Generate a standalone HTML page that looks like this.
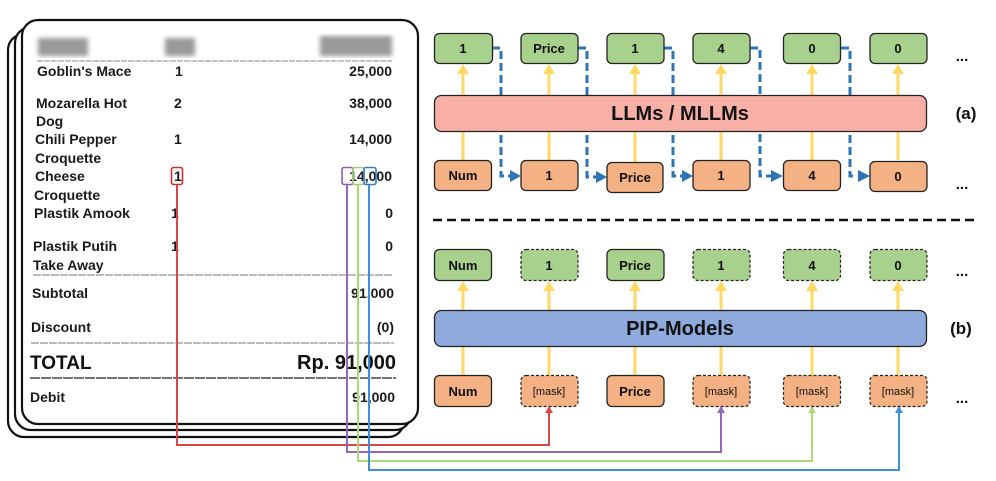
<!DOCTYPE html>
<html><head><meta charset="utf-8"><style>
html,body{margin:0;padding:0;background:#fff;}
svg{display:block;}
.r{font-family:"Liberation Sans",Arial,sans-serif;font-size:14px;font-weight:bold;fill:#1a1a1a;}
.c{font-family:"Liberation Sans",Arial,sans-serif;font-weight:bold;font-size:13px;fill:#111;text-anchor:middle;}
.m{font-family:"Liberation Sans",Arial,sans-serif;font-size:11px;fill:#111;text-anchor:middle;}
</style></head><body>
<svg width="996" height="481" viewBox="0 0 996 481" xmlns="http://www.w3.org/2000/svg">
<defs>
<filter id="bl"><feGaussianBlur stdDeviation="2.5"/></filter>
</defs>
<!-- receipt cards -->
<rect x="8" y="34" width="396" height="403" rx="16" fill="#fff" stroke="#111" stroke-width="2.2"/>
<rect x="15" y="27" width="396" height="403" rx="16" fill="#fff" stroke="#111" stroke-width="2.2"/>
<rect x="22" y="20" width="396" height="404" rx="16" fill="#fff" stroke="#111" stroke-width="2.2"/>
<g filter="url(#bl)" fill="#999">
<rect x="38" y="38" width="50" height="18"/><rect x="165" y="38" width="30" height="18"/><rect x="320" y="36" width="72" height="20"/>
</g>
<line x1="37" y1="61" x2="392" y2="61" stroke="#888" stroke-width="1" stroke-dasharray="6,1"/>
<g class="r">
<text x="37" y="76">Goblin's Mace</text><text x="175" y="76">1</text><text x="392" y="76" text-anchor="end">25,000</text>
<text x="36" y="108">Mozarella Hot</text><text x="174" y="108">2</text><text x="392" y="108" text-anchor="end">38,000</text>
<text x="36" y="126">Dog</text>
<text x="35" y="144">Chili Pepper</text><text x="174" y="144">1</text><text x="392" y="144" text-anchor="end">14,000</text>
<text x="35" y="163">Croquette</text>
<text x="35" y="181">Cheese</text><text x="174" y="181">1</text><text x="392" y="181" text-anchor="end">14,000</text>
<text x="34" y="200">Croquette</text>
<text x="34" y="218">Plastik Amook</text><text x="171" y="218">1</text><text x="393" y="218" text-anchor="end">0</text>
<text x="33" y="251">Plastik Putih</text><text x="171" y="251">1</text><text x="393" y="251" text-anchor="end">0</text>
<text x="33" y="270">Take Away</text>
<text x="32" y="298">Subtotal</text><text x="394" y="298" text-anchor="end">91,000</text>
<text x="31" y="332">Discount</text><text x="394" y="332" text-anchor="end">(0)</text>
<text x="30" y="402">Debit</text><text x="395" y="402" text-anchor="end">91,000</text>
</g>
<text x="30" y="369" style="font-family:'Liberation Sans',Arial,sans-serif;font-weight:bold;font-size:19px;fill:#111">TOTAL</text>
<text x="396" y="369" text-anchor="end" style="font-family:'Liberation Sans',Arial,sans-serif;font-weight:bold;font-size:20px;fill:#111">Rp. 91,000</text>
<line x1="33" y1="275" x2="392" y2="275" stroke="#777" stroke-width="1" stroke-dasharray="8,1"/>
<line x1="31" y1="343" x2="394" y2="343" stroke="#777" stroke-width="1" stroke-dasharray="8,1"/>
<line x1="30" y1="378" x2="396" y2="378" stroke="#444" stroke-width="1.5" stroke-dasharray="10,1"/>
<!-- highlights -->
<rect x="171.5" y="167.5" width="11" height="17" rx="2" fill="none" stroke="#d03030" stroke-width="1.6"/>
<rect x="342" y="167.5" width="11" height="17" rx="2" fill="none" stroke="#8e5cc0" stroke-width="1.6"/>
<rect x="353" y="167.5" width="11" height="17" rx="2" fill="none" stroke="#9fd36a" stroke-width="1.6"/>
<rect x="364" y="167.5" width="12" height="17" rx="2" fill="none" stroke="#2f7fd0" stroke-width="1.6"/>
<!-- connectors -->
<polyline points="177,185 177,445 549,445 549,412" fill="none" stroke="#d84848" stroke-width="2"/>
<path d="M545,413 L549,406 L553,413z" fill="#d84848"/>
<polyline points="347,185 347,452 721,452 721,412" fill="none" stroke="#9566c0" stroke-width="2"/>
<path d="M717,413 L721,406 L725,413z" fill="#9566c0"/>
<polyline points="358,185 358,461 812,461 812,412" fill="none" stroke="#a8dc78" stroke-width="2"/>
<path d="M808,413 L812,406 L816,413z" fill="#a8dc78"/>
<polyline points="369,185 369,470 899,470 899,412" fill="none" stroke="#3d8fd6" stroke-width="2"/>
<path d="M895,413 L899,406 L903,413z" fill="#3d8fd6"/>

<!-- (a) -->
<g stroke="#ffd966" stroke-width="3">
<line x1="463" y1="160" x2="463" y2="131"/><line x1="549" y1="160" x2="549" y2="131"/><line x1="635" y1="162" x2="635" y2="131"/><line x1="721" y1="160" x2="721" y2="131"/><line x1="812" y1="160" x2="812" y2="131"/><line x1="898" y1="160" x2="898" y2="131"/>
<line x1="463" y1="95" x2="463" y2="72"/><line x1="549" y1="95" x2="549" y2="72"/><line x1="635" y1="95" x2="635" y2="72"/><line x1="721" y1="95" x2="721" y2="72"/><line x1="812" y1="95" x2="812" y2="72"/><line x1="898" y1="95" x2="898" y2="72"/>
</g>
<g fill="#ffd966">
<path d="M457,74 L463,64 L469,74z"/><path d="M543,74 L549,64 L555,74z"/><path d="M629,74 L635,64 L641,74z"/><path d="M715,74 L721,64 L727,74z"/><path d="M806,74 L812,64 L818,74z"/><path d="M892,74 L898,64 L904,74z"/>
</g>
<g fill="none" stroke="#2e75b6" stroke-width="3" stroke-dasharray="8,4">
<polyline points="492,48 501,48 501,176 510,176"/>
<polyline points="578,48 587,48 587,177 596,177"/>
<polyline points="664,48 673,48 673,176 682,176"/>
<polyline points="750,48 760,48 760,176 771,176"/>
<polyline points="841,48 850,48 850,176 857,176"/>
</g>
<g fill="#2e75b6">
<path d="M510,170 L521,176 L510,182z"/><path d="M596,171 L607,177 L596,183z"/><path d="M682,170 L693,176 L682,182z"/><path d="M771,170 L783,176 L771,182z"/><path d="M858,170 L870,176 L858,182z"/>
</g>
<g fill="#a9d18e" stroke="#222" stroke-width="1.3">
<rect x="434.5" y="33.5" width="58" height="30" rx="5"/><rect x="521" y="33.5" width="57" height="30" rx="5"/><rect x="607" y="33.5" width="57" height="30" rx="5"/><rect x="693" y="33.5" width="57" height="30" rx="5"/><rect x="783.5" y="33.5" width="57" height="30" rx="5"/><rect x="870" y="33.5" width="57" height="30" rx="5"/>
</g>
<g class="c"><text x="463" y="53">1</text><text x="549" y="53">Price</text><text x="635" y="53">1</text><text x="721" y="53">4</text><text x="812" y="53">0</text><text x="898" y="53">0</text></g>
<rect x="434.5" y="95.5" width="492" height="36" rx="7" fill="#f8b0a6" stroke="#222" stroke-width="1.3"/>
<text x="680" y="120" class="c" style="font-size:20px">LLMs / MLLMs</text>
<g fill="#f4b183" stroke="#222" stroke-width="1.3">
<rect x="434.5" y="160.5" width="57" height="30" rx="5"/><rect x="521" y="160.5" width="57" height="30" rx="5"/><rect x="607" y="162.5" width="56" height="30" rx="5"/><rect x="693" y="160.5" width="57" height="30" rx="5"/><rect x="783.5" y="160.5" width="57" height="30" rx="5"/><rect x="870" y="161.5" width="57" height="30" rx="5"/>
</g>
<g class="c"><text x="463" y="180">Num</text><text x="549" y="180">1</text><text x="635" y="182">Price</text><text x="721" y="180">1</text><text x="812" y="180">4</text><text x="898" y="181">0</text></g>
<text x="966" y="119" class="c" style="font-size:17px">(a)</text>
<text x="962" y="61" class="c" style="font-size:15px">...</text><text x="962" y="189" class="c" style="font-size:15px">...</text>
<line x1="433" y1="220" x2="977" y2="220" stroke="#111" stroke-width="2.5" stroke-dasharray="9,5"/>

<!-- (b) -->
<g stroke="#ffd966" stroke-width="3">
<line x1="463" y1="376" x2="463" y2="347"/><line x1="549" y1="376" x2="549" y2="347"/><line x1="635" y1="376" x2="635" y2="347"/><line x1="721" y1="376" x2="721" y2="347"/><line x1="812" y1="376" x2="812" y2="347"/><line x1="898" y1="376" x2="898" y2="347"/>
<line x1="463" y1="310" x2="463" y2="289"/><line x1="549" y1="310" x2="549" y2="289"/><line x1="635" y1="310" x2="635" y2="289"/><line x1="721" y1="310" x2="721" y2="289"/><line x1="812" y1="310" x2="812" y2="289"/><line x1="898" y1="310" x2="898" y2="289"/>
</g>
<g fill="#ffd966">
<path d="M457,291 L463,281 L469,291z"/><path d="M543,291 L549,281 L555,291z"/><path d="M629,291 L635,281 L641,291z"/><path d="M715,291 L721,281 L727,291z"/><path d="M806,291 L812,281 L818,291z"/><path d="M892,291 L898,281 L904,291z"/>
</g>
<g fill="#a9d18e" stroke="#222" stroke-width="1.3">
<rect x="434.5" y="249.5" width="57" height="31" rx="5"/><rect x="607" y="249.5" width="57" height="31" rx="5"/>
</g>
<g fill="#a9d18e" stroke="#222" stroke-width="1.2" stroke-dasharray="3,2">
<rect x="521" y="249.5" width="57" height="31" rx="5"/><rect x="693" y="249.5" width="57" height="31" rx="5"/><rect x="783.5" y="249.5" width="57" height="31" rx="5"/><rect x="870" y="249.5" width="57" height="31" rx="5"/>
</g>
<g class="c"><text x="463" y="270">Num</text><text x="549" y="270">1</text><text x="635" y="270">Price</text><text x="721" y="270">1</text><text x="812" y="270">4</text><text x="898" y="270">0</text></g>
<rect x="434.5" y="310.5" width="492" height="36" rx="7" fill="#8faadc" stroke="#222" stroke-width="1.3"/>
<text x="680" y="335" class="c" style="font-size:20px">PIP-Models</text>
<g fill="#f4b183" stroke="#222" stroke-width="1.3">
<rect x="434.5" y="375.5" width="57" height="31" rx="5"/><rect x="607" y="375.5" width="57" height="31" rx="5"/>
</g>
<g fill="#f4b183" stroke="#222" stroke-width="1.2" stroke-dasharray="3,2">
<rect x="521" y="375.5" width="57" height="31" rx="5"/><rect x="693" y="375.5" width="57" height="31" rx="5"/><rect x="783.5" y="375.5" width="57" height="31" rx="5"/><rect x="870" y="375.5" width="57" height="31" rx="5"/>
</g>
<g class="c"><text x="463" y="396">Num</text><text x="635" y="396">Price</text></g>
<g class="m"><text x="549" y="395">[mask]</text><text x="721" y="395">[mask]</text><text x="812" y="395">[mask]</text><text x="898" y="395">[mask]</text></g>
<text x="961" y="334" class="c" style="font-size:17px">(b)</text>
<text x="962" y="276" class="c" style="font-size:15px">...</text><text x="962" y="403" class="c" style="font-size:15px">...</text>
</svg>
</body></html>
